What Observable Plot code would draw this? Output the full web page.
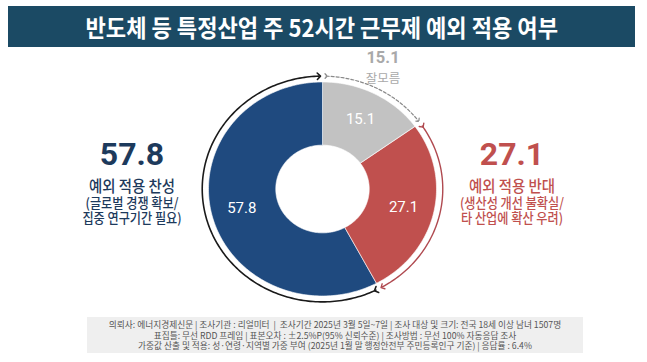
<!DOCTYPE html>
<html>
<head>
<meta charset="utf-8">
<script src="https://cdn.jsdelivr.net/npm/d3@7"></script>
<script src="https://cdn.jsdelivr.net/npm/@observablehq/plot@0.6"></script>
<style>
  html, body { margin: 0; padding: 0; background: #fff; }
  #wrap { position: relative; width: 647px; height: 362px; overflow: hidden; font-family: "Noto Sans CJK KR", "Noto Sans", sans-serif; }
  #chart { position: absolute; left: 0; top: 0; }
  #title { position: absolute; left: 8px; top: 6px; width: 627px; height: 41px; background: #1b4a64; color: #fff;
           display: flex; align-items: center; justify-content: center; font-weight: 700; font-size: 24px; }
  #title span { display: inline-block; transform: scaleX(0.92); white-space: nowrap; }
  .side { position: absolute; width: 200px; text-align: center; }
  .side .big { font-family: Roboto, "Noto Sans", sans-serif; font-weight: 700; font-size: 32px; line-height: 34px; height: 34px; margin-bottom: 4.5px; }
  .side .desc { white-space: pre; font-size: 13.5px; font-weight: 500; line-height: 15.5px; transform: scaleX(0.9); }
  .side .desc::first-line { font-size: 16px; line-height: 19px; }
  #left { left: 32px; top: 137px; color: #1d3a5c; }
  #right { left: 412px; top: 137px; color: #c0504e; }
  #topbox { position: absolute; left: 343px; top: 49px; width: 80px; text-align: center; color: #a9a9a9; }
  #topbox .n { font-family: Roboto, sans-serif; font-weight: 700; font-size: 16.5px; line-height: 18px; height: 18px; margin-bottom: 2px; }
  #topbox .t { font-size: 12.5px; line-height: 17px; }
  #footer { position: absolute; left: 87px; top: 317px; width: 496px; height: 36px; background: #efefef; color: #555;
            font-size: 8.7px; line-height: 10.6px; text-align: center; padding-top: 3px; box-sizing: border-box; white-space: pre; }
</style>
</head>
<body>
<div id="wrap">
  <div id="chart"></div>
  <div id="title"><span></span></div>
  <div id="left" class="side"></div>
  <div id="right" class="side"></div>
  <div id="topbox"></div>
  <div id="footer"></div>
</div>
<script>
const titleText = "반도체 등 특정산업 주 52시간 근무제 예외 적용 여부";
const categories = ["잘모름", "예외 적용 반대", "예외 적용 찬성"];
const values = [15.1, 27.1, 57.8];
const colors = ["#c2c2c2", "#c0504e", "#1f4a7f"];
const arrowColors = ["#8a8a8a", "#b04a50", "#1a1a1a"];
const leftLines = ["예외 적용 찬성", "(글로벌 경쟁 확보/", "집중 연구기간 필요)"];
const rightLines = ["예외 적용 반대", "(생산성 개선 불확실/", "타 산업에 확산 우려)"];
const topLines = ["잘모름"];
const footerLines = [
  "의뢰사: 에너지경제신문 | 조사기관 : 리얼미터  |  조사기간 2025년 3월 5일~7일 | 조사 대상 및 크기: 전국 18세 이상 남녀 1507명",
  "표집틀: 무선 RDD 프레임 | 표본오차 : ±2.5%P(95% 신뢰수준) | 조사방법 : 무선 100% 자동응답 조사",
  "가중값 산출 및 적용: 성·연령·지역별 가중 부여 (2025년 1월 말 행정안전부 주민등록인구 기준) | 응답률 : 6.4%"
];

// Geometry (in units of outer radius)
const inner = 0.41, outer = 1, ring = 1.055, gap = 0.03;
const pie = d3.pie().sort(null).value(d => d)(values);

function arcPts(a0, a1, r) {
  const steps = Math.max(2, Math.ceil(Math.abs(a1 - a0) / 0.02));
  return d3.range(steps + 1).map(i => {
    const a = a0 + (a1 - a0) * i / steps;
    return {x: r * Math.sin(a), y: r * Math.cos(a)};
  });
}

const slicePts = pie.flatMap((p, i) => {
  const pts = arcPts(p.startAngle, p.endAngle, outer).concat(arcPts(p.endAngle, p.startAngle, inner));
  return pts.map(q => ({...q, cat: categories[i], color: colors[i]}));
});

const arrowArcs = pie.map((p, i) => arcPts(p.startAngle + gap, p.endAngle - gap, ring)
  .map(q => ({...q, cat: categories[i], color: arrowColors[i]})));

const labels = pie.map((p, i) => {
  const a = (p.startAngle + p.endAngle) / 2, r = 0.73;
  return {x: r * Math.sin(a), y: r * Math.cos(a), text: values[i].toFixed(1)};
});

const chart = Plot.plot({
  width: 647, height: 362,
  margin: 0,
  x: {domain: [-322 / 114, 325 / 114], range: [0, 647], axis: null},
  y: {domain: [-(362 - 188.5) / 107, 188.5 / 107], range: [362, 0], axis: null},
  style: {background: "transparent"},
  marks: [
    Plot.line(slicePts, {x: "x", y: "y", z: "cat", fill: "color", stroke: "white", strokeWidth: 0.6, curve: "linear-closed"}),
    Plot.line(arrowArcs[0], {x: "x", y: "y", stroke: "color", strokeWidth: 1.2, strokeDasharray: "3,2", markerStart: "arrow", markerEnd: "arrow"}),
    Plot.line(arrowArcs[1], {x: "x", y: "y", stroke: "color", strokeWidth: 1.4, markerStart: "arrow", markerEnd: "arrow"}),
    Plot.line(arrowArcs[2], {x: "x", y: "y", stroke: "color", strokeWidth: 1.6, markerStart: "arrow", markerEnd: "arrow"}),
    Plot.text(labels, {x: "x", y: "y", text: "text", fill: "white", fontSize: 15, fontFamily: "Roboto, sans-serif"})
  ]
});
document.getElementById("chart").appendChild(chart);

document.querySelector("#title span").textContent = titleText;
function side(id, num, lines) {
  const el = document.getElementById(id);
  const b = document.createElement("div"); b.className = "big"; b.textContent = num.toFixed(1); el.appendChild(b);
  const d = document.createElement("div"); d.className = "desc"; d.textContent = lines.join("\n"); el.appendChild(d);
}
side("left", values[2], leftLines);
side("right", values[1], rightLines);
const topBox = document.getElementById("topbox");
const tn = document.createElement("div"); tn.className = "n"; tn.textContent = values[0].toFixed(1); topBox.appendChild(tn);
const tt = document.createElement("div"); tt.className = "t"; tt.textContent = topLines[0]; topBox.appendChild(tt);
document.getElementById("footer").textContent = footerLines.join("\n");
</script>
</body>
</html>
